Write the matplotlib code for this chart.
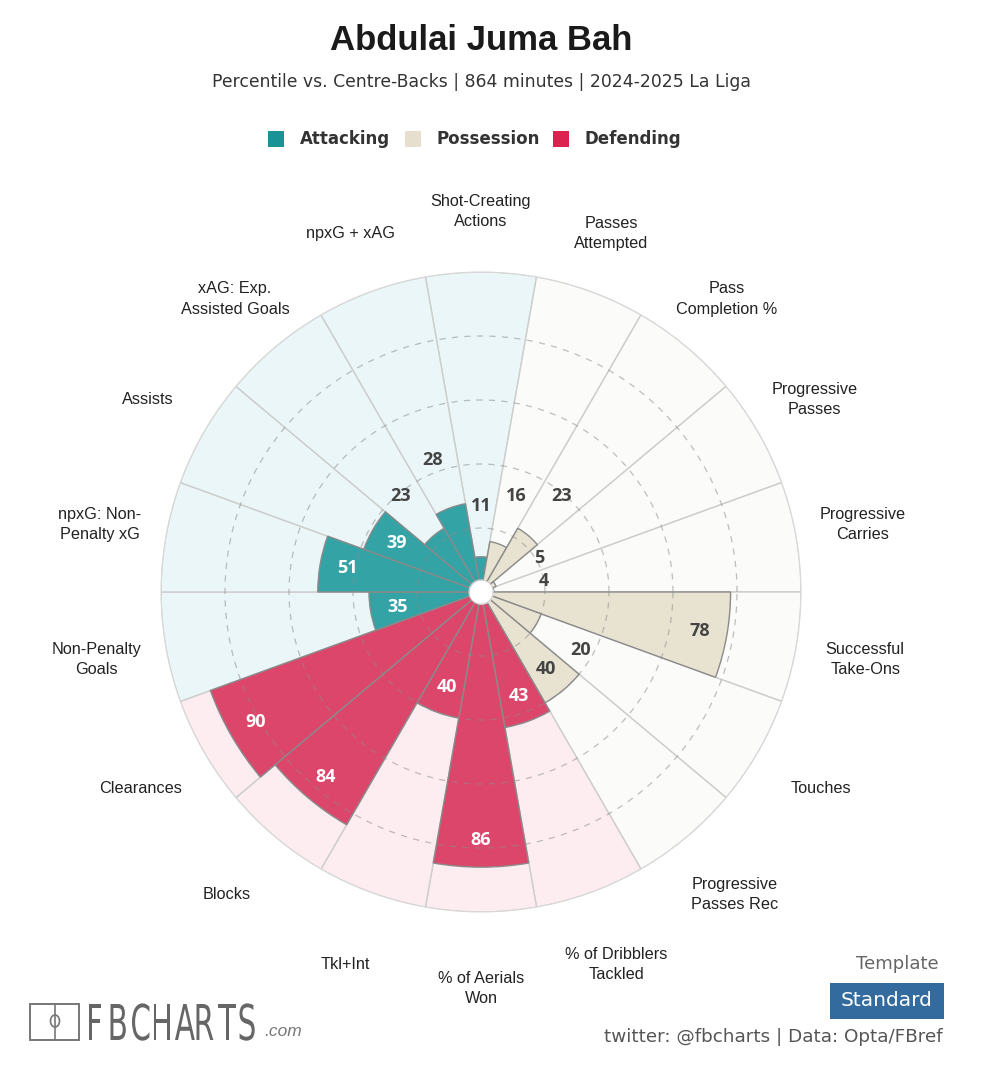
import numpy as np
import matplotlib
matplotlib.use("Agg")
import matplotlib.pyplot as plt
from matplotlib.patches import Rectangle, Ellipse, PathPatch
from matplotlib.textpath import TextPath
from matplotlib.font_manager import FontProperties
from matplotlib.transforms import Affine2D

# --------- Data ---------
player = "Abdulai Juma Bah"
subtitle = "Percentile vs. Centre-Backs | 864 minutes | 2024-2025 La Liga"

# clockwise, starting with the wedge at the top
stats = ["Shot-Creating\nActions", "Passes\nAttempted", "Pass\nCompletion %",
         "Progressive\nPasses", "Progressive\nCarries", "Successful\nTake-Ons",
         "Touches", "Progressive\nPasses Rec", "% of Dribblers\nTackled",
         "% of Aerials\nWon", "Tkl+Int", "Blocks", "Clearances",
         "Non-Penalty\nGoals", "npxG: Non-\nPenalty xG", "Assists",
         "xAG: Exp.\nAssisted Goals", "npxG + xAG"]
percentiles = [11, 16, 23, 5, 4, 78, 20, 40, 43, 86, 40, 84, 90, 35, 51, 39, 23, 28]
groups = ["Attacking"] + ["Possession"] * 7 + ["Defending"] * 5 + ["Attacking"] * 5
legend_names = ["Attacking", "Possession", "Defending"]

# --------- Styles ---------
legend_col = {"Attacking": "#1A9396", "Possession": "#E6DFCE", "Defending": "#DC2350"}
bar_col = {"Attacking": "#33A3A6", "Possession": "#E8E2D1", "Defending": "#DD466B"}
bg_col = {"Attacking": "#EAF6F7", "Possession": "#FBFBF9", "Defending": "#FDEDF1"}
label_font = "Liberation Sans"
num_font = "Open Sans"

fig = plt.figure(figsize=(10, 10.88), dpi=100)

# overlay in pixel units for the titles, legend and footer
ov = fig.add_axes([0, 0, 1, 1])
ov.set_xlim(0, 1000)
ov.set_ylim(1088, 0)
ov.axis("off")

ax = fig.add_axes([0.161, 0.1618, 0.64, 0.5882], projection="polar")
ax.set_ylim(0, 100)
ax.set_xticks([])
ax.set_yticks([])
ax.grid(False)
ax.spines["polar"].set_color("#D8D8D8")
ax.patch.set_alpha(0)

n = len(stats)
theta = np.deg2rad(90 - 360 / n * np.arange(n))
width = 2 * np.pi / n

ax.bar(theta, [100] * n, width=width, color=[bg_col[g] for g in groups],
       edgecolor="#CDCDCD", linewidth=1, zorder=1)
ax.bar(theta, percentiles, width=width, color=[bar_col[g] for g in groups],
       edgecolor="#8A8A8A", linewidth=1, zorder=2)

ring = np.linspace(0, 2 * np.pi, 500)
for r in [20, 40, 60, 80]:
    ax.plot(ring, [r] * len(ring), color="#8C8C8C", linestyle=(0, (5, 5)),
            linewidth=0.9, alpha=0.55, zorder=3)

# white hole in the middle
ax.fill_between(ring, 0, 3.8, color="white", linewidth=0, zorder=4)
ax.plot(ring, [3.8] * len(ring), color="#CCCCCC", linewidth=0.8, zorder=4)

for t, v, g, name in zip(theta, percentiles, groups, stats):
    if v < 30:
        r, c = v + 16, "#444444"
    else:
        r = v - 8.5
        c = "#444444" if g == "Possession" else "white"
    ax.text(t, r, str(v), ha="center", va="center", fontsize=13,
            fontweight="bold", family=num_font, color=c, zorder=5)
    ax.text(t, 121.5 - 2.5 * np.sin(t), name, ha="center", va="center",
            fontsize=11.7, family=label_font, color="#222222", linespacing=1.45)

# --------- Titles & legend ---------
ov.text(481, 41, player, ha="center", va="center", fontsize=25,
        fontweight="bold", family=label_font, color="#1A1A1A")
ov.text(481, 82, subtitle, ha="center", va="center", fontsize=12.4,
        family="DejaVu Sans", color="#333333")

leg_x = [268, 405, 553]
for x, name in zip(leg_x, legend_names):
    ov.add_patch(Rectangle((x, 131), 16, 16, facecolor=legend_col[name], edgecolor="none"))
    ov.text(x + 32, 139, name, ha="left", va="center", fontsize=12,
            fontweight="bold", family="DejaVu Sans", color="#333333")

# --------- Footer ---------
ov.add_patch(Rectangle((30, 1004), 49, 36, fill=False, edgecolor="#777777", linewidth=1.4))
ov.plot([55, 55], [1004, 1040], color="#777777", linewidth=1.2)
ov.add_patch(Ellipse((55, 1021), 9, 12, fill=False, edgecolor="#777777", linewidth=1.2))

fp = FontProperties(family="DejaVu Sans")
cap = TextPath((0, 0), "H", size=1, prop=fp).get_extents().height
sy = 36 / cap
for k, ch in enumerate("FBCHARTS"):
    p = TextPath((0, 0), ch, size=1, prop=fp)
    bb = p.get_extents()
    tr = Affine2D().translate(-bb.x0, 0).scale(sy * 0.6, -sy).translate(89 + k * 21.5, 1040)
    ov.add_patch(PathPatch(tr.transform_path(p), facecolor="#666666", edgecolor="none"))
ov.text(264, 1032, ".com", ha="left", va="center", fontsize=12.5, style="italic",
        family=label_font, color="#777777")

ov.text(897, 964, "Template", ha="center", va="center", fontsize=13,
        family="DejaVu Sans", color="#666666")
ov.add_patch(Rectangle((830, 983), 114, 36, facecolor="#336B9E", edgecolor="none"))
ov.text(887, 1001, "Standard", ha="center", va="center", fontsize=14.5,
        family="DejaVu Sans", color="white")
ov.text(943, 1037, "twitter: @fbcharts | Data: Opta/FBref", ha="right", va="center",
        fontsize=13.2, family="DejaVu Sans", color="#555555")

fig.savefig("out.png", dpi=100, facecolor="white")
